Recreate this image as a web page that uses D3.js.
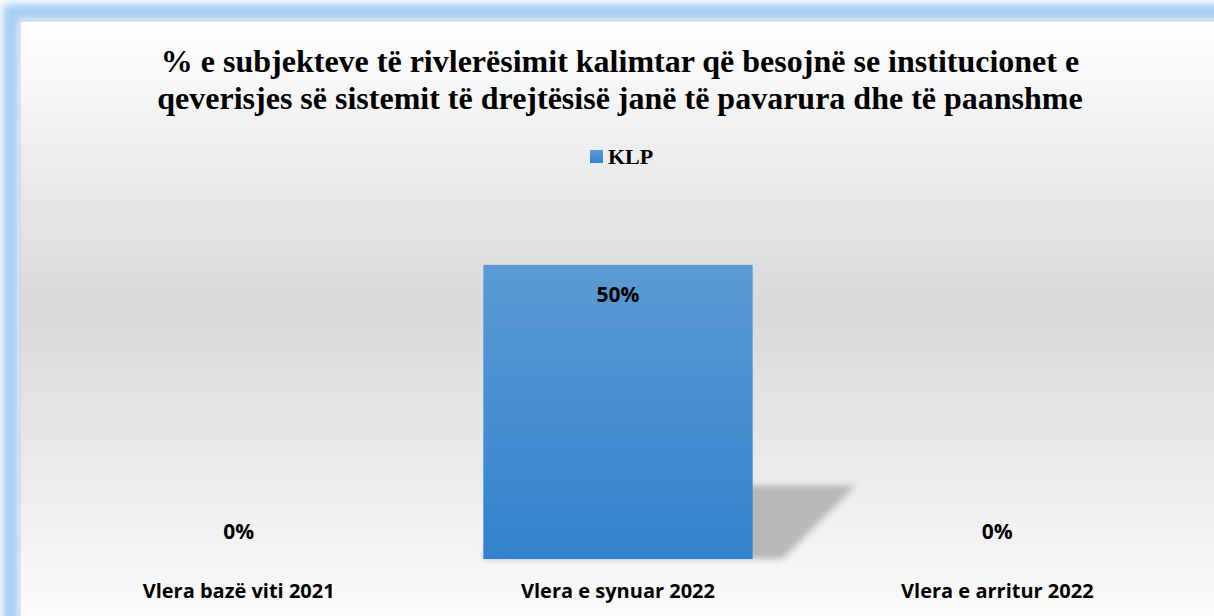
<!DOCTYPE html>
<html>
<head>
<meta charset="utf-8">
<script src="https://cdn.jsdelivr.net/npm/d3@7"></script>
<style>
  html, body { margin: 0; padding: 0; background: #fff; }
  svg { display: block; }
</style>
</head>
<body>
<div id="chart"></div>
<script>
const titleLines = ["% e subjekteve të rivlerësimit kalimtar që besojnë se institucionet e",
                    "qeverisjes së sistemit të drejtësisë janë të pavarura dhe të paanshme"];
const seriesName = "KLP";
const categories = ["Vlera bazë viti 2021", "Vlera e synuar 2022", "Vlera e arritur 2022"];
const values = [0, 0.5, 0];

const W = 1214, H = 616;

const svg = d3.select("#chart")
    .append("svg")
    .attr("width", W)
    .attr("height", H);

const defs = svg.append("defs");

// background of the chart area
const bg = defs.append("linearGradient").attr("id", "bg")
    .attr("x1", 0).attr("y1", 0).attr("x2", 0).attr("y2", 1);
bg.append("stop").attr("offset", "0%").attr("stop-color", "#ffffff");
bg.append("stop").attr("offset", "45%").attr("stop-color", "#d9d9d9");
bg.append("stop").attr("offset", "100%").attr("stop-color", "#ffffff");

const barGrad = defs.append("linearGradient").attr("id", "barGrad")
    .attr("x1", 0).attr("y1", 0).attr("x2", 0).attr("y2", 1);
barGrad.append("stop").attr("offset", "0%").attr("stop-color", "#5b9bd5");
barGrad.append("stop").attr("offset", "100%").attr("stop-color", "#3381cc");

defs.append("filter").attr("id", "glow")
    .attr("x", "-10%").attr("y", "-10%").attr("width", "120%").attr("height", "120%")
    .append("feGaussianBlur").attr("stdDeviation", 4);

defs.append("filter").attr("id", "shadowBlur")
    .attr("x", "-20%").attr("y", "-20%").attr("width", "140%").attr("height", "140%")
    .append("feGaussianBlur").attr("stdDeviation", 3);

// blue outer glow
svg.append("rect")
    .attr("x", 11).attr("y", 12)
    .attr("width", W + 40).attr("height", H + 40)
    .attr("fill", "none")
    .attr("stroke", "#a3cdf6")
    .attr("stroke-width", 16)
    .attr("filter", "url(#glow)");

svg.append("rect")
    .attr("x", 20).attr("y", 21)
    .attr("width", W + 20).attr("height", H + 20)
    .attr("fill", "url(#bg)")
    .attr("stroke", "#d0d0d0")
    .attr("stroke-width", 1);

// title
svg.append("text")
    .attr("x", 620).attr("y", 72)
    .attr("text-anchor", "middle")
    .style("font-family", "'Liberation Serif', 'Times New Roman', serif")
    .style("font-weight", "bold")
    .style("font-size", "32px")
    .selectAll("tspan")
    .data(titleLines)
    .enter()
    .append("tspan")
    .attr("x", 620)
    .attr("dy", (d, i) => i === 0 ? 0 : 37)
    .text(d => d);

// legend
const legend = svg.append("g").attr("transform", "translate(590,150)");
legend.append("rect")
    .attr("width", 13).attr("height", 13)
    .attr("fill", "url(#barGrad)");
legend.append("text")
    .attr("x", 18).attr("y", 14)
    .style("font-family", "'Liberation Serif', 'Times New Roman', serif")
    .style("font-weight", "bold")
    .style("font-size", "22px")
    .text(seriesName);

// scales
const x = d3.scaleBand().domain(categories).range([49, 1187]).paddingInner(0.29).paddingOuter(0.145);
const y = d3.scaleLinear().domain([0, 0.6]).range([559, 206]);

// perspective shadow behind bars
svg.selectAll(".shadow")
    .data(values.map((v, i) => ({v, c: categories[i]})).filter(d => d.v > 0))
    .enter()
    .append("path")
    .attr("class", "shadow")
    .attr("fill", "#b8b8b8")
    .attr("filter", "url(#shadowBlur)")
    .attr("d", d => {
        const x0 = x(d.c), x1 = x(d.c) + x.bandwidth();
        const h = (y(0) - y(d.v)) * 0.25;
        return `M${x0 + 20},${y(0) - h} L${x1 + 103},${y(0) - h} L${x1 + 30},${y(0)} L${x0},${y(0)} Z`;
    });

// bars
svg.selectAll(".bar")
    .data(values)
    .enter()
    .append("rect")
    .attr("class", "bar")
    .attr("x", (d, i) => x(categories[i]))
    .attr("y", d => y(d))
    .attr("width", x.bandwidth())
    .attr("height", d => y(0) - y(d))
    .attr("fill", "url(#barGrad)");

// value labels
const fmt = d3.format(".0%");
svg.selectAll(".val")
    .data(values)
    .enter()
    .append("text")
    .attr("class", "val")
    .attr("x", (d, i) => x(categories[i]) + x.bandwidth() / 2)
    .attr("y", d => d > 0 ? y(d) + 37 : y(0) - 20)
    .attr("text-anchor", "middle")
    .style("font-family", "'Open Sans', 'Noto Sans', sans-serif")
    .style("font-weight", "bold")
    .style("font-size", "21px")
    .text(d => fmt(d));

// category axis labels
const xAxis = svg.append("g")
    .attr("transform", `translate(0,${y(0)})`)
    .call(d3.axisBottom(x).tickSize(0).tickPadding(25));
xAxis.select(".domain").remove();
xAxis.selectAll("text")
    .attr("fill", "#000")
    .style("font-family", "'Open Sans', 'Noto Sans', sans-serif")
    .style("font-weight", "bold")
    .style("font-size", "20px");
</script>
</body>
</html>
